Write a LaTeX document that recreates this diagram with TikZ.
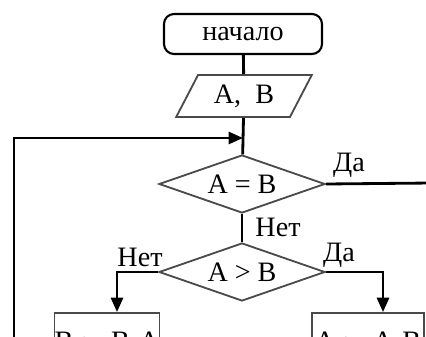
\documentclass[tikz,border=0pt]{standalone}
\usepackage{fontspec}
\setmainfont{Liberation Serif}
\usetikzlibrary{arrows.meta, positioning, shapes.geometric}
\definecolor{edge}{HTML}{4A4A4A}

\begin{document}
\begin{tikzpicture}[
    x=0.25mm, y=-0.25mm,
    every node/.style={font=\fontsize{20}{24}\selectfont},
    term/.style={draw=black, line width=1.5pt, rounded corners=2.5mm, minimum width=3.95cm, minimum height=1cm},
    io/.style={draw=edge, line width=1.3pt, trapezium, trapezium left angle=58, trapezium right angle=122, trapezium stretches=true, minimum width=3.4cm, minimum height=1.05cm, inner sep=0pt},
    cond/.style={draw=edge, line width=1.3pt, diamond, aspect=2.9, minimum width=4.15cm, minimum height=1.45cm, inner sep=0pt},
    proc/.style={draw=edge, line width=1.3pt, minimum height=1.4cm, inner sep=0pt},
    line/.style={line width=2pt, color=black},
    arrow/.style={line width=2pt, color=black, -{Triangle[length=3.6mm, width=3mm]}},
    lbl/.style={inner sep=0pt}
]
\useasboundingbox (0,0) rectangle (426,337);
\clip (0,0) rectangle (426,337);

\node[term] (start) at (243,34) {начало};
\node[io] (input) at (244,96) {A,\ \ B};
\node[cond] (eq) at (242,184) {A = B};
\node[cond] (gt) at (242,272) {A > B};
\node[proc, minimum width=2.45cm] (subB) at (107,341) {B := B-A};
\node[proc, minimum width=2.8cm] (subA) at (368,341) {A := A-B};

\node[lbl] (yes1) at (349,165) {Да};
\node[lbl] (no1) at (278,227) {Нет};
\node[lbl] (no2) at (140,257) {Нет};
\node[lbl] (yes2) at (339,255) {Да};

\coordinate (merge) at (243,138);
\coordinate (loop) at (14,345);
\coordinate (exit) at (432,183);

\draw[line] (start) -- (input);
\draw[line] (input) -- (eq);
\draw[arrow] (loop) |- (merge);
\draw[line] (eq.east) -- (exit);
\draw[line] (eq) -- (gt);
\draw[arrow] (gt.west) -| ([xshift=2.5mm]subB.north);
\draw[arrow] (gt.east) -| ([xshift=3.75mm]subA.north);
\end{tikzpicture}
\end{document}
